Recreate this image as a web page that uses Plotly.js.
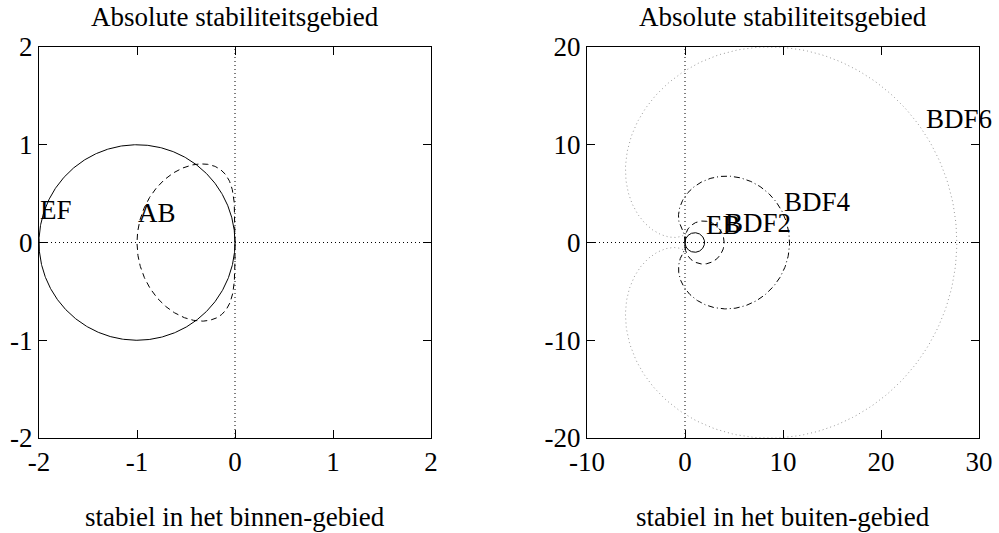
<!DOCTYPE html>
<html>
<head>
<meta charset="utf-8">
<script src="https://cdn.plot.ly/plotly-3.0.1.min.js"></script>
<style>html,body{margin:0;padding:0;background:#fff}#plot{width:999px;height:533px}</style>
</head>
<body>
<div id="plot"></div>
<script>
// Tick values / labels
const leftTicks = [-2, -1, 0, 1, 2];
const leftTickText = ["-2", "-1", "0", "1", "2"];
const rightXTicks = [-10, 0, 10, 20, 30];
const rightXTickText = ["-10", "0", "10", "20", "30"];
const rightYTicks = [-20, -10, 0, 10, 20];
const rightYTickText = ["-20", "-10", "0", "10", "20"];

// Method characteristic polynomials (coefficients in ascending powers of xi)
// boundary of absolute stability region: z = rho(xi)/sigma(xi), xi = exp(i*theta)
const efRho = [-1, 1], efSigma = [1];                       // Euler forward
const abRho = [0, -1, 1], abSigma = [-0.5, 1.5];            // Adams-Bashforth 2
const ebRho = [-1, 1], ebSigma = [0, 1];                    // Euler backward
const bdf2Rho = [1/2, -2, 3/2], bdf2Sigma = [0, 0, 1];
const bdf4Rho = [1/4, -4/3, 3, -4, 25/12], bdf4Sigma = [0, 0, 0, 0, 1];
const bdf6Rho = [1/6, -6/5, 15/4, -20/3, 15/2, -6, 49/20], bdf6Sigma = [0, 0, 0, 0, 0, 0, 1];

// Label names and anchor positions
const leftLabels = ["EF", "AB"];
const leftLabelX = [-2, -1];
const leftLabelY = [0.33, 0.30];
const rightLabels = ["EB", "BDF2", "BDF4", "BDF6"];
const rightLabelX = [2.0, 4.0, 10.0, 24.5];
const rightLabelY = [1.74, 2.0, 4.1, 12.6];

const nSamples = 720;

function polyEval(c, re, im) {
  let pr = 0, pi = 0;
  for (let k = c.length - 1; k >= 0; k--) {
    const nr = pr * re - pi * im + c[k];
    const ni = pr * im + pi * re;
    pr = nr; pi = ni;
  }
  return [pr, pi];
}
function locus(rho, sigma) {
  const xs = [], ys = [];
  for (let j = 0; j <= nSamples; j++) {
    const t = 2 * Math.PI * j / nSamples;
    const c = Math.cos(t), s = Math.sin(t);
    const [a, b] = polyEval(rho, c, s);
    const [p, q] = polyEval(sigma, c, s);
    const d = p * p + q * q;
    xs.push((a * p + b * q) / d);
    ys.push((b * p - a * q) / d);
  }
  return {x: xs, y: ys};
}

const ef = locus(efRho, efSigma), ab = locus(abRho, abSigma);
const eb = locus(ebRho, ebSigma), b2 = locus(bdf2Rho, bdf2Sigma);
const b4 = locus(bdf4Rho, bdf4Sigma), b6 = locus(bdf6Rho, bdf6Sigma);

const dotDash = "1px,3px";
const traces = [
  {x: ef.x, y: ef.y, xaxis: "x", yaxis: "y", mode: "lines", line: {color: "#000", width: 1}, name: "EF"},
  {x: ab.x, y: ab.y, xaxis: "x", yaxis: "y", mode: "lines", line: {color: "#000", width: 1, dash: "6px,4px"}, name: "AB"},
  {x: b6.x, y: b6.y, xaxis: "x2", yaxis: "y2", mode: "lines", line: {color: "#9a9a9a", width: 1, dash: dotDash}, name: "BDF6"},
  {x: b4.x, y: b4.y, xaxis: "x2", yaxis: "y2", mode: "lines", line: {color: "#000", width: 1, dash: "6px,3px,1px,3px"}, name: "BDF4"},
  {x: b2.x, y: b2.y, xaxis: "x2", yaxis: "y2", mode: "lines", line: {color: "#000", width: 1, dash: "6px,4px"}, name: "BDF2"},
  {x: eb.x, y: eb.y, xaxis: "x2", yaxis: "y2", mode: "lines", line: {color: "#000", width: 1}, name: "EB"}
];

const font = {family: "Liberation Serif", size: 27, color: "#000"};
function axis(domain, range, tv, tt, anchor) {
  return {
    domain: domain, range: range, anchor: anchor,
    tickmode: "array", tickvals: tv, ticktext: tt,
    ticks: "inside", ticklen: 8, tickwidth: 1, tickcolor: "#000",
    showline: true, linecolor: "#000", linewidth: 1, mirror: "allticks",
    showgrid: false, zeroline: false, tickfont: font, fixedrange: true
  };
}

const annotations = [
  {xref: "paper", yref: "paper", x: 235/999, y: 1 - 17/533, text: "Absolute stabiliteitsgebied", showarrow: false, font: font, xanchor: "center", yanchor: "middle"},
  {xref: "paper", yref: "paper", x: 783/999, y: 1 - 17/533, text: "Absolute stabiliteitsgebied", showarrow: false, font: font, xanchor: "center", yanchor: "middle"},
  {xref: "paper", yref: "paper", x: 235/999, y: 1 - 517/533, text: "stabiel in het binnen-gebied", showarrow: false, font: font, xanchor: "center", yanchor: "middle"},
  {xref: "paper", yref: "paper", x: 783/999, y: 1 - 517/533, text: "stabiel in het buiten-gebied", showarrow: false, font: font, xanchor: "center", yanchor: "middle"}
];
leftLabels.forEach((t, i) => annotations.push({xref: "x", yref: "y", x: leftLabelX[i], y: leftLabelY[i], text: t, showarrow: false, font: font, xanchor: "left", yanchor: "middle", borderpad: 0}));
rightLabels.forEach((t, i) => annotations.push({xref: "x2", yref: "y2", x: rightLabelX[i], y: rightLabelY[i], text: t, showarrow: false, font: font, xanchor: "left", yanchor: "middle", borderpad: 0}));

const zl = {color: "#000", width: 1, dash: dotDash};
const shapes = [
  {type: "line", xref: "x", yref: "y domain", x0: 0, x1: 0, y0: 0, y1: 1, line: zl, layer: "below"},
  {type: "line", xref: "x domain", yref: "y", x0: 0, x1: 1, y0: 0, y1: 0, line: zl, layer: "below"},
  {type: "line", xref: "x2", yref: "y2 domain", x0: 0, x1: 0, y0: 0, y1: 1, line: zl, layer: "below"},
  {type: "line", xref: "x2 domain", yref: "y2", x0: 0, x1: 1, y0: 0, y1: 0, line: zl, layer: "below"}
];

const yDom = [1 - 438/533, 1 - 47/533];
const layout = {
  width: 999, height: 533,
  margin: {l: 0, r: 0, t: 0, b: 0},
  paper_bgcolor: "#fff", plot_bgcolor: "#fff",
  showlegend: false, font: font,
  xaxis: axis([39/999, 431/999], [-2, 2], leftTicks, leftTickText, "y"),
  yaxis: axis(yDom, [-2, 2], leftTicks, leftTickText, "x"),
  xaxis2: axis([587/999, 979/999], [-10, 30], rightXTicks, rightXTickText, "y2"),
  yaxis2: axis(yDom, [-20, 20], rightYTicks, rightYTickText, "x2"),
  annotations: annotations, shapes: shapes
};

Plotly.newPlot("plot", traces, layout, {staticPlot: true, displayModeBar: false});
</script>
</body>
</html>
